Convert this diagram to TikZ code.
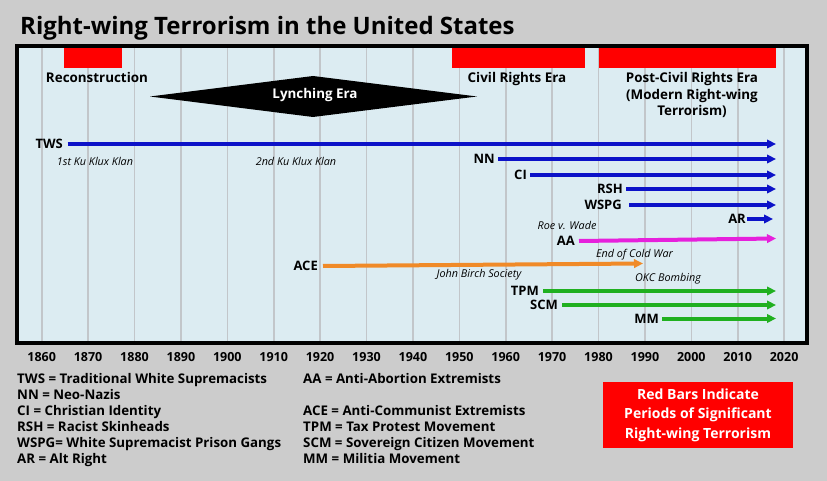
\documentclass[tikz,border=0pt]{standalone}
\usepackage{fontspec}
\setmainfont{Open Sans}
\usetikzlibrary{arrows.meta}
\definecolor{bgc}{HTML}{CCCCCC}
\definecolor{plotbg}{HTML}{DCECF2}
\definecolor{gridc}{HTML}{C2C6CA}
\definecolor{myblue}{HTML}{0C12C8}
\definecolor{mymag}{HTML}{E620DC}
\definecolor{myorange}{HTML}{F08A28}
\definecolor{mygreen}{HTML}{20B020}
\definecolor{myred}{HTML}{FF0000}
\tikzset{
  lbl/.style={font=\bfseries\fontsize{13}{15}\selectfont, inner sep=0pt, anchor=east},
  note/.style={font=\itshape\fontsize{10.8}{12}\selectfont, inner sep=0pt, anchor=base},
  era/.style={font=\bfseries\fontsize{13.4}{16.5}\selectfont, inner sep=0pt, anchor=base},
  arr/.style={line width=4pt, -{Triangle[length=9pt,width=8.5pt]}},
  redbar/.style={fill=myred},
  yr/.style={font=\bfseries\fontsize{12.5}{14}\selectfont, inner sep=0pt, anchor=base},
  leg/.style={font=\bfseries\fontsize{13.3}{15}\selectfont, inner sep=0pt, anchor=base west},
  gridline/.style={gridc, line width=1.6pt},
}
\begin{document}
\begin{tikzpicture}[x=1pt,y=-1pt]
\fill[bgc] (0,0) rectangle (827,481);
\useasboundingbox (0,0) rectangle (827,481);
% title
\node[anchor=base west, inner sep=0pt, font=\bfseries\fontsize{24}{28}\selectfont] (title) at (20,35) {Right-wing Terrorism in the United States};
% plot area
\fill[plotbg] (17,46) rectangle (807,343);
\foreach \i in {0,...,16} {
  \draw[gridline] ({41.7+46.4*\i},46) -- ({41.7+46.4*\i},343);
}
\foreach \i/\yr in {0/1860,1/1870,2/1880,3/1890,4/1900,5/1910,6/1920,7/1930,8/1940,9/1950,10/1960,11/1970,12/1980,13/1990,14/2000,15/2010,16/2020} {
  \node[yr] (yr\i) at ({41.7+46.4*\i},361.5) {\yr};
}
% red bars
\fill[redbar] (64,47.5) rectangle (122,68);
\fill[redbar] (452,47.5) rectangle (585,68);
\fill[redbar] (599,47.5) rectangle (776,68);
\node[era] (recon) at (97,83) {Reconstruction};
\node[era] (civil) at (517,83) {Civil Rights Era};
\node[era] (post1) at (692,83) {Post-Civil Rights Era};
\node[era] (post2) at (692,99.5) {(Modern Right-wing};
\node[era] (post3) at (692,116) {Terrorism)};
% lynching era
\fill[black] (150,96.5) -- (313,76) -- (477,96.5) -- (313,117) -- cycle;
\node[era, text=white] (lynch) at (315,99) {Lynching Era};
% border
\draw[line width=3.5pt] (17,46) rectangle (807,343);
% arrows
\coordinate (eTWS) at (776,144);
\node[lbl] (TWS) at (63,144) {TWS};
\draw[arr, myblue] ([xshift=4.5pt]TWS.east) -- (eTWS);
\coordinate (eNN) at (776,159);
\node[lbl] (NN) at (495,159) {NN};
\draw[arr, myblue] ([xshift=3pt]NN.east) -- (eNN);
\coordinate (eCI) at (776,175);
\node[lbl] (CI) at (527,175) {CI};
\draw[arr, myblue] ([xshift=3pt]CI.east) -- (eCI);
\coordinate (eRSH) at (776,189);
\node[lbl] (RSH) at (623,189) {RSH};
\draw[arr, myblue] ([xshift=3pt]RSH.east) -- (eRSH);
\coordinate (eWSPG) at (776,205);
\node[lbl] (WSPG) at (622,205) {WSPG};
\draw[arr, myblue] ([xshift=7pt]WSPG.east) -- (eWSPG);
\coordinate (eAR) at (773,219);
\node[lbl] (AR) at (746,219) {AR};
\draw[arr, myblue] ([xshift=0.5pt]AR.east) -- (eAR);
\coordinate (eAA) at (776,238.5);
\node[lbl] (AA) at (575,241) {AA};
\draw[arr, mymag] ([xshift=4pt]AA.east) -- (eAA);
\coordinate (eACE) at (643,263.5);
\node[lbl] (ACE) at (318,266) {ACE};
\draw[arr, myorange] ([xshift=5pt]ACE.east) -- (eACE);
\coordinate (eTPM) at (776,291);
\node[lbl] (TPM) at (539,291) {TPM};
\draw[arr, mygreen] ([xshift=4pt]TPM.east) -- (eTPM);
\coordinate (eSCM) at (776,305);
\node[lbl] (SCM) at (558,305) {SCM};
\draw[arr, mygreen] ([xshift=4pt]SCM.east) -- (eSCM);
\coordinate (eMM) at (776,318.5);
\node[lbl] (MM) at (659,318.5) {MM};
\draw[arr, mygreen] ([xshift=3pt]MM.east) -- (eMM);
% notes
\node[note] (kkk1) at (95,166) {1st Ku Klux Klan};
\node[note] (kkk2) at (296,166) {2nd Ku Klux Klan};
\node[note] (roe) at (567,229.3) {Roe v. Wade};
\node[note] (cold) at (634.5,257) {End of Cold War};
\node[note] (jbs) at (479,277.5) {John Birch Society};
\node[note] (okc) at (668,281.7) {OKC Bombing};
% legend
\node[leg] (l1) at (17,383) {TWS = Traditional White Supremacists};
\node[leg] (l2) at (17,399.15) {NN = Neo-Nazis};
\node[leg] (l3) at (17,415.3) {CI = Christian Identity};
\node[leg] (l4) at (17,431.45) {RSH = Racist Skinheads};
\node[leg] (l5) at (17,447.6) {WSPG= White Supremacist Prison Gangs};
\node[leg] (l6) at (17,463.75) {AR = Alt Right};
\node[leg] (r1) at (303,383) {AA = Anti-Abortion Extremists};
\node[leg] (r2) at (303,415.3) {ACE = Anti-Communist Extremists};
\node[leg] (r3) at (303,431.45) {TPM = Tax Protest Movement};
\node[leg] (r4) at (303,447.6) {SCM = Sovereign Citizen Movement};
\node[leg] (r5) at (303,463.75) {MM = Militia Movement};
\node[fill=myred, text=white, minimum width=190pt, minimum height=66pt, inner sep=0pt, align=center, font=\bfseries\fontsize{14}{19.5}\selectfont] (redkey) at (698,415) {Red Bars Indicate\\Periods of Significant\\Right-wing Terrorism};
\end{tikzpicture}
\end{document}
